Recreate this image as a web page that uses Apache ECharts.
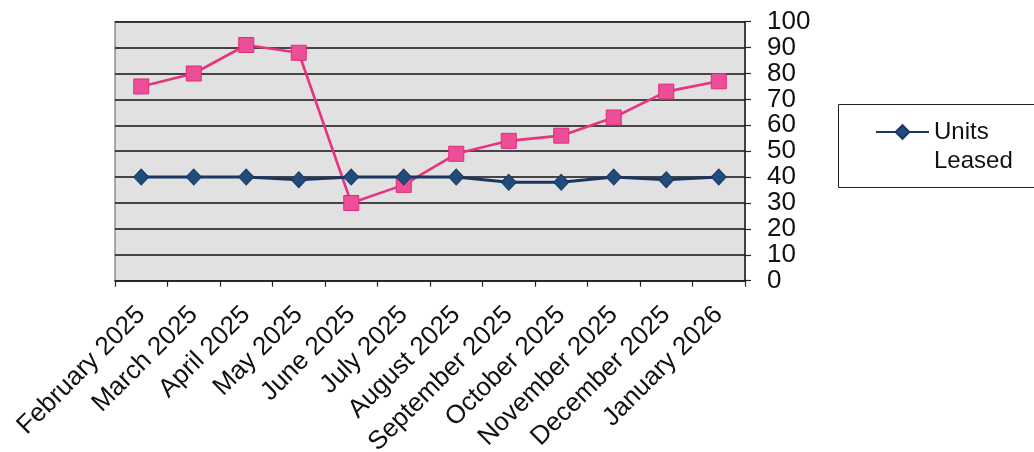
<!DOCTYPE html>
<html>
<head>
<meta charset="utf-8">
<script src="https://cdn.jsdelivr.net/npm/echarts@6/dist/echarts.min.js"></script>
<style>
  html, body { margin: 0; padding: 0; background: #fff; }
  #chart { width: 1034px; height: 452px; }
</style>
</head>
<body>
<div id="chart"></div>
<script>
// Monthly categories
const months = [
  'February 2025', 'March 2025', 'April 2025', 'May 2025', 'June 2025', 'July 2025',
  'August 2025', 'September 2025', 'October 2025', 'November 2025', 'December 2025', 'January 2026'
];
// Units leased per month
const unitsLeased = [40, 40, 40, 39, 40, 40, 40, 38, 38, 40, 39, 40];
// Second tracked series (pink)
const secondSeries = [75, 80, 91, 88, 30, 37, 49, 54, 56, 63, 73, 77];
// Value axis settings
const yMin = 0, yMax = 100, yStep = 10;

const chart = echarts.init(document.getElementById('chart'), null, { renderer: 'canvas' });

const font = '"Liberation Sans", Arial, sans-serif';

chart.setOption({
  backgroundColor: '#ffffff',
  animation: false,
  grid: {
    left: 115, right: 289, top: 21.7, bottom: 171.3,
    outerBoundsMode: 'none',
    show: true, backgroundColor: '#e1e1e1', borderColor: '#777', borderWidth: 1.2
  },
  legend: {
    data: ['Units Leased'],
    orient: 'vertical',
    left: 875, top: 88.5, padding: 0,
    itemWidth: 53, itemHeight: 17,
    // leading blank line keeps the icon level with the first word
    formatter: () => ' \nUnits\nLeased',
    textStyle: { fontFamily: font, fontSize: 24, color: '#111', lineHeight: 29 }
  },
  graphic: [{
    type: 'rect', silent: true,
    shape: { x: 838.5, y: 104.5, width: 200, height: 83 },
    style: { fill: 'none', stroke: '#222', lineWidth: 1 }
  }],
  xAxis: {
    type: 'category',
    data: months,
    boundaryGap: true,
    axisLine: { show: true, lineStyle: { color: '#222', width: 1.5 } },
    axisTick: { show: true, length: 6, lineStyle: { color: '#222', width: 1.2 } },
    axisLabel: {
      rotate: 45, margin: 30, interval: 0,
      fontFamily: font, fontSize: 26, color: '#111'
    },
    splitLine: { show: false }
  },
  yAxis: {
    type: 'value',
    position: 'right',
    min: yMin, max: yMax, interval: yStep,
    axisLine: { show: true, lineStyle: { color: '#222', width: 1.5 } },
    axisTick: { show: true, length: 6, lineStyle: { color: '#222', width: 1.2 } },
    axisLabel: {
      margin: 22, fontFamily: font, fontSize: 26, color: '#111',
      showMinLabel: true, showMaxLabel: true
    },
    splitLine: { show: true, lineStyle: { color: '#111', width: 1.6 } }
  },
  series: [
    {
      name: 'Second Series',
      type: 'line',
      data: secondSeries,
      symbol: 'rect',
      symbolSize: 15,
      z: 2,
      lineStyle: { color: '#e8347f', width: 2.6 },
      itemStyle: { color: '#ec4f97', borderColor: '#e02a78', borderWidth: 1 }
    },
    {
      name: 'Units Leased',
      type: 'line',
      data: unitsLeased,
      symbol: 'diamond',
      symbolSize: [15, 16],
      z: 3,
      lineStyle: { color: '#1b3663', width: 3 },
      itemStyle: { color: '#1f4c7a', borderColor: '#1b3663', borderWidth: 1 }
    }
  ]
});
</script>
</body>
</html>
